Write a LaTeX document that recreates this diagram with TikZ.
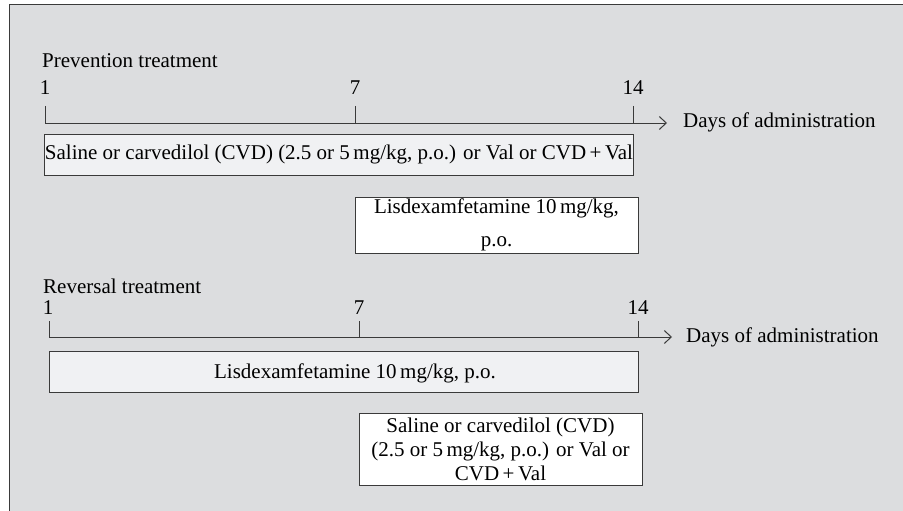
\documentclass[tikz,border=0pt]{standalone}
\usepackage{fontspec}
\setmainfont{Liberation Serif}
\usetikzlibrary{arrows.meta}
\definecolor{panelgray}{HTML}{DCDDDF}
\definecolor{barfill}{HTML}{F0F1F3}
\definecolor{linecol}{HTML}{3A3A3A}
\tikzset{
  lbl/.style={font=\fontsize{21}{23}\selectfont, inner sep=0pt, text=black},
  axis/.style={draw=linecol, line width=1pt, -{Straight Barb[length=7pt,width=13pt,line width=1pt]}},
  tick/.style={draw=linecol, line width=1pt},
  bar/.style={draw=linecol, line width=1pt, fill=barfill, inner sep=0pt, font=\fontsize{21}{23}\selectfont, align=center},
  wbar/.style={draw=linecol, line width=1pt, fill=white, inner sep=0pt, align=center},
}
\begin{document}
\begin{tikzpicture}[x=1pt,y=-1pt]
\useasboundingbox (0,0) rectangle (903,511);
\fill[white] (0,0) rectangle (903,511);
\fill[panelgray] (9,5) rectangle (903,511);
\draw[linecol, line width=1pt] (9,511) -- (9,5) -- (903,5);

% Prevention
\node[lbl, anchor=base west] (ptitle) at (42,67) {Prevention treatment};
\coordinate (p1) at (45,123);
\coordinate (p7) at (355,123);
\coordinate (p14) at (633,123);
\coordinate (pend) at (667,123);
\coordinate (p1t) at (45,106);
\coordinate (p7t) at (355,106);
\coordinate (p14t) at (633,106);
\node[lbl, anchor=base] (pl1) at (45,95) {1};
\node[lbl, anchor=base] (pl7) at (355,95) {7};
\node[lbl, anchor=base] (pl14) at (633,95) {14};
\draw[axis] (p1) -- (pend);
\draw[tick] (p1t) -- (p1);
\draw[tick] (p7t) -- (p7);
\draw[tick] (p14t) -- (p14);
\node[lbl, anchor=base west] (pdays) at (683,128) {Days of administration};
\node[bar, minimum width=588pt, minimum height=41pt] (pbox1) at (339,154.5)
  {Saline or carvedilol (CVD) (2.5 or 5\,mg/kg, p.o.) or Val or CVD\,+\,Val};
\node[wbar, minimum width=283pt, minimum height=56pt, font=\fontsize{21}{33}\selectfont] (pbox2) at (496.5,225)
  {Lisdexamfetamine 10\,mg/kg,\\p.o.};

% Reversal
\node[lbl, anchor=base west] (rtitle) at (43,293) {Reversal treatment};
\coordinate (r1) at (49,337);
\coordinate (r7) at (359,337);
\coordinate (r14) at (638,337);
\coordinate (rend) at (672,337);
\coordinate (r1t) at (49,321);
\coordinate (r7t) at (359,321);
\coordinate (r14t) at (638,321);
\node[lbl, anchor=base] (rl1) at (48,314) {1};
\node[lbl, anchor=base] (rl7) at (359,314) {7};
\node[lbl, anchor=base] (rl14) at (638,314) {14};
\draw[axis] (r1) -- (rend);
\draw[tick] (r1t) -- (r1);
\draw[tick] (r7t) -- (r7);
\draw[tick] (r14t) -- (r14);
\node[lbl, anchor=base west] (rdays) at (686,342) {Days of administration};
\node[bar, minimum width=589pt, minimum height=41pt] (rbox1) at (343.5,371.5) {};
\node[lbl, anchor=base] (rbox1txt) at (355,378) {Lisdexamfetamine 10\,mg/kg, p.o.};
\node[wbar, minimum width=283pt, minimum height=72pt, font=\fontsize{21}{24}\selectfont] (rbox2) at (500.5,449)
  {Saline or carvedilol (CVD)\\(2.5 or 5\,mg/kg, p.o.) or Val or\\CVD\,+\,Val};
\end{tikzpicture}
\end{document}
